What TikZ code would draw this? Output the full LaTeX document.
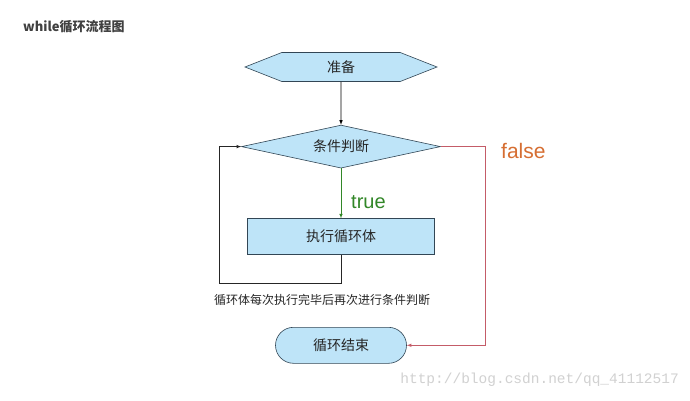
\documentclass[tikz,border=0pt]{standalone}
\usepackage{fontspec}
\setmainfont{Liberation Sans}
\newfontfamily\cjk{Noto Sans CJK SC}
\newfontfamily\wmfont{Liberation Mono}
\usepackage{tikz}
\usetikzlibrary{arrows,positioning,shapes.geometric,shapes.misc,shapes.symbols}
\definecolor{boxblue}{RGB}{190,228,248}
\definecolor{boxline}{RGB}{50,70,85}
\definecolor{falsered}{RGB}{196,92,104}
\definecolor{falsetext}{RGB}{214,110,50}
\definecolor{truegreen}{RGB}{50,135,40}

\begin{document}
\begin{tikzpicture}[->, >=latex, x=1pt, y=-1pt, node distance=40pt, font=\cjk]
\tikzstyle{every node}=[inner sep=0pt]
\tikzstyle{blk}=[fill=boxblue,draw=boxline,semithick,text=black!85,font=\cjk\fontsize{14}{16}\selectfont]
\useasboundingbox[fill=white] (0,0) rectangle (690,401);

\node[blk,signal,signal to=west and east,signal pointer angle=43,minimum width=192pt,minimum height=29pt] (prep) at (341,67) {准备};
\node[blk,diamond,aspect=4.63,minimum width=199pt,minimum height=43pt,below=43pt of prep] (cond) {条件判断};
\node[blk,rectangle,minimum width=187pt,minimum height=36pt,below=50pt of cond] (body) {执行循环体};
\node[blk,rounded rectangle,minimum width=131pt,minimum height=36pt,below=72pt of body] (stop) {循环结束};

\node[font=\cjk\bfseries\fontsize{13}{15}\selectfont,text=black!75,anchor=west] (title) at (23,27) {while循环流程图};
\node[font=\cjk\fontsize{12}{14}\selectfont,text=black!85] (note) at (322,300) {循环体每次执行完毕后再次进行条件判断};
\node[font=\fontsize{20}{24}\selectfont,text=truegreen,anchor=west] (tlab) at (351,202) {true};
\node[font=\fontsize{21}{24}\selectfont,text=falsetext,anchor=west] (flab) at (501,151) {false};
\node[font=\wmfont\fontsize{14.5}{16}\selectfont,text=black!18,anchor=east] (mark) at (679,380) {http://blog.csdn.net/qq\_41112517};

\coordinate (lb) at (219,283);
\coordinate (rt) at (485,0);

\path
(prep) edge[black,semithick] (cond)
(cond) edge[truegreen,semithick] (body);
\draw[black!85,semithick] (body.south) |- (lb) |- (cond.west);
\draw[falsered,semithick] (cond.east) -- (cond.east -| rt) |- (stop.east);
\end{tikzpicture}
\end{document}
